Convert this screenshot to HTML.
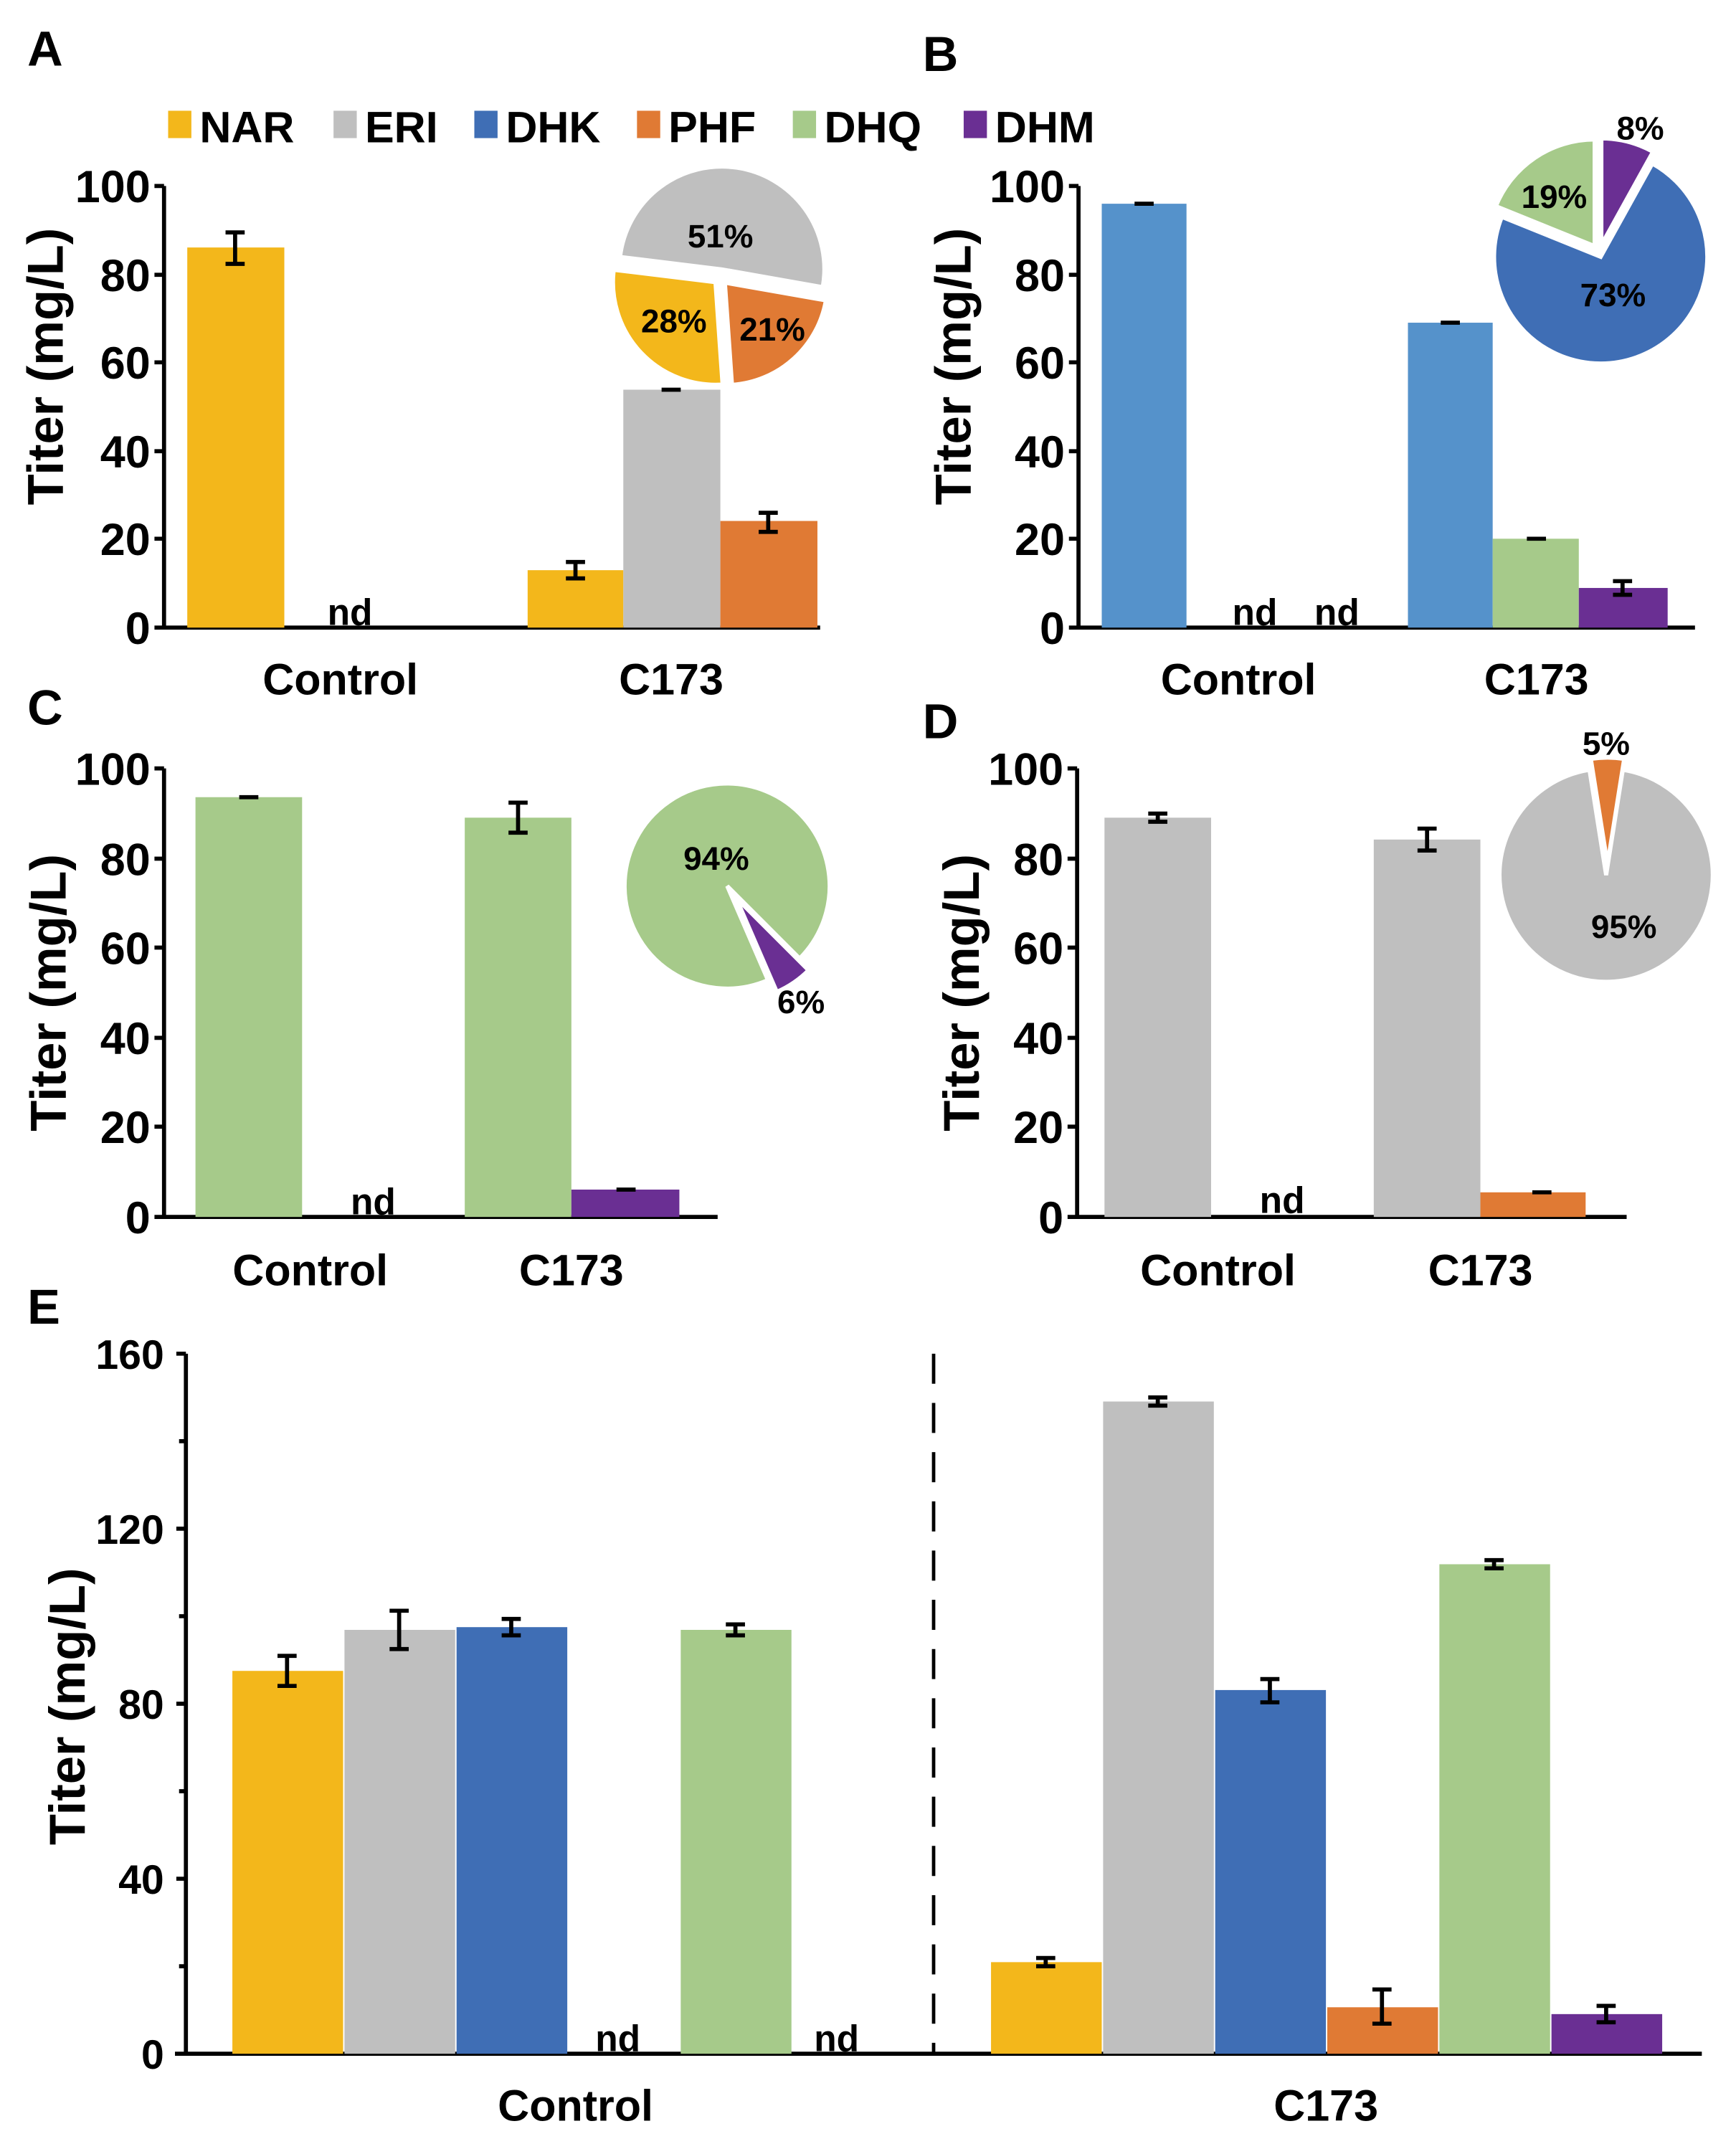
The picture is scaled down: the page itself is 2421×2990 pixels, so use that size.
<!DOCTYPE html>
<html><head><meta charset="utf-8"><style>
html,body{margin:0;padding:0;background:#fff}
svg{display:block}
text{font-family:"Liberation Sans",Arial,sans-serif;font-weight:bold;fill:#000}
</style></head><body>
<svg width="2421" height="2990" viewBox="0 0 1270 1568" preserveAspectRatio="none" xmlns="http://www.w3.org/2000/svg">
<rect width="1270" height="1568" fill="#fff"/>
<text x="20" y="48" font-size="36">A</text>
<text x="675" y="52" font-size="36">B</text>
<text x="20" y="530" font-size="36">C</text>
<text x="675" y="540" font-size="36">D</text>
<text x="20" y="968" font-size="36">E</text>
<g font-size="32">
<rect x="123" y="81" width="17" height="20" fill="#F3B71B"/><text x="146" y="104">NAR</text>
<rect x="244" y="81" width="17" height="20" fill="#BFBFBF"/><text x="267" y="104">ERI</text>
<rect x="347" y="81" width="17" height="20" fill="#3F6EB5"/><text x="370" y="104">DHK</text>
<rect x="466" y="81" width="17" height="20" fill="#E07A34"/><text x="489" y="104">PHF</text>
<rect x="580" y="81" width="17" height="20" fill="#A6CA8A"/><text x="603" y="104">DHQ</text>
<rect x="705" y="81" width="17" height="20" fill="#6A2F93"/><text x="728" y="104">DHM</text>
</g>
<g stroke="#000" stroke-width="3" fill="none">
<path d="M120 136 V459 M113 459 H600 M113 136 H120 M113 201 H120 M113 265 H120 M113 330 H120 M113 394 H120"/>
<path d="M789 136 V459 M782 459 H1240 M782 136 H789 M782 201 H789 M782 265 H789 M782 330 H789 M782 394 H789"/>
<path d="M120 562 V890 M113 890 H525 M113 562 H120 M113 628 H120 M113 693 H120 M113 759 H120 M113 824 H120"/>
<path d="M788 562 V890 M781 890 H1190 M781 562 H788 M781 628 H788 M781 693 H788 M781 759 H788 M781 824 H788"/>
<path d="M136 990 V1502 M128 1502 H1245 M129 990 H136 M131 1054 H136 M129 1118 H136 M131 1182 H136 M129 1246 H136 M131 1310 H136 M129 1374 H136 M131 1438 H136"/>
</g>
<path d="M683 990 V1502" stroke="#000" stroke-width="2.5" stroke-dasharray="22,14"/>
<g font-size="33" text-anchor="end">
<text x="110" y="148">100</text><text x="110" y="213">80</text><text x="110" y="277">60</text><text x="110" y="342">40</text><text x="110" y="406">20</text><text x="110" y="471">0</text>
<text x="779" y="148">100</text><text x="779" y="213">80</text><text x="779" y="277">60</text><text x="779" y="342">40</text><text x="779" y="406">20</text><text x="779" y="471">0</text>
<text x="110" y="574">100</text><text x="110" y="640">80</text><text x="110" y="705">60</text><text x="110" y="771">40</text><text x="110" y="836">20</text><text x="110" y="902">0</text>
<text x="778" y="574">100</text><text x="778" y="640">80</text><text x="778" y="705">60</text><text x="778" y="771">40</text><text x="778" y="836">20</text><text x="778" y="902">0</text>
<text x="120" y="1001" font-weight="normal" font-size="30">160</text><text x="120" y="1129" font-weight="normal" font-size="30">120</text><text x="120" y="1257" font-weight="normal" font-size="30">80</text><text x="120" y="1385" font-weight="normal" font-size="30">40</text><text x="120" y="1513" font-weight="normal" font-size="30">0</text>
</g>
<g font-size="37" text-anchor="middle">
<text transform="translate(46,268) rotate(-90)">Titer (mg/L)</text>
<text transform="translate(710,268) rotate(-90)">Titer (mg/L)</text>
<text transform="translate(48,726) rotate(-90)">Titer (mg/L)</text>
<text transform="translate(716,726) rotate(-90)">Titer (mg/L)</text>
<text transform="translate(62,1248) rotate(-90)">Titer (mg/L)</text>
</g>
<g font-size="32" text-anchor="middle">
<text x="249" y="508">Control</text><text x="491" y="508">C173</text>
<text x="906" y="508">Control</text><text x="1124" y="508">C173</text>
<text x="227" y="940">Control</text><text x="418" y="940">C173</text>
<text x="891" y="940">Control</text><text x="1083" y="940">C173</text>
<text x="421" y="1551">Control</text><text x="970" y="1551">C173</text>
</g>
<g font-size="27" text-anchor="middle">
<text x="256" y="457">nd</text>
<text x="918" y="457">nd</text><text x="978" y="457">nd</text>
<text x="273" y="888">nd</text>
<text x="938" y="887">nd</text>
<text x="452" y="1500">nd</text><text x="612" y="1500">nd</text>
</g>
<rect x="137" y="181" width="71" height="278" fill="#F3B71B"/>
<rect x="386" y="417" width="70" height="42" fill="#F3B71B"/>
<rect x="456" y="285" width="71" height="174" fill="#BFBFBF"/>
<rect x="527" y="381" width="71" height="78" fill="#E07A34"/>
<rect x="806" y="149" width="62" height="310" fill="#5592CB"/>
<rect x="1030" y="236" width="62" height="223" fill="#5592CB"/>
<rect x="1092" y="394" width="63" height="65" fill="#A6CA8A"/>
<rect x="1155" y="430" width="65" height="29" fill="#6A2F93"/>
<rect x="143" y="583" width="78" height="307" fill="#A6CA8A"/>
<rect x="340" y="598" width="78" height="292" fill="#A6CA8A"/>
<rect x="418" y="870" width="79" height="20" fill="#6A2F93"/>
<rect x="808" y="598" width="78" height="292" fill="#BFBFBF"/>
<rect x="1005" y="614" width="78" height="276" fill="#BFBFBF"/>
<rect x="1083" y="872" width="77" height="18" fill="#E07A34"/>
<rect x="170" y="1222" width="81" height="280" fill="#F3B71B"/>
<rect x="252" y="1192" width="81" height="310" fill="#BFBFBF"/>
<rect x="334" y="1190" width="81" height="312" fill="#3F6EB5"/>
<rect x="498" y="1192" width="81" height="310" fill="#A6CA8A"/>
<rect x="725" y="1435" width="81" height="67" fill="#F3B71B"/>
<rect x="807" y="1025" width="81" height="477" fill="#BFBFBF"/>
<rect x="889" y="1236" width="81" height="266" fill="#3F6EB5"/>
<rect x="971" y="1468" width="81" height="34" fill="#E07A34"/>
<rect x="1053" y="1144" width="81" height="358" fill="#A6CA8A"/>
<rect x="1135" y="1473" width="81" height="29" fill="#6A2F93"/>
<g stroke="#000" stroke-width="3" fill="none">
<path d="M172 170 V193 M165 170 H179 M165 193 H179"/>
<path d="M421 411 V423 M414 411 H428 M414 423 H428"/>
<path d="M491 284 V286 M484 285 H498"/>
<path d="M562 375 V389 M555 375 H569 M555 389 H569"/>
<path d="M830 149 H844"/><path d="M1054 236 H1068"/><path d="M1117 394 H1131"/>
<path d="M1187 425 V435 M1180 425 H1194 M1180 435 H1194"/>
<path d="M175 583 H189"/>
<path d="M379 587 V609 M372 587 H386 M372 609 H386"/>
<path d="M451 870 H465"/>
<path d="M847 595 V601 M840 595 H854 M840 601 H854"/>
<path d="M1044 606 V622 M1037 606 H1051 M1037 622 H1051"/>
<path d="M1121 872 H1135"/>
<path d="M210 1211 V1233 M203 1211 H217 M203 1233 H217"/>
<path d="M292 1178 V1206 M285 1178 H299 M285 1206 H299"/>
<path d="M374 1184 V1196 M367 1184 H381 M367 1196 H381"/>
<path d="M538 1188 V1196 M531 1188 H545 M531 1196 H545"/>
<path d="M765 1432 V1438 M758 1432 H772 M758 1438 H772"/>
<path d="M847 1022 V1028 M840 1022 H854 M840 1028 H854"/>
<path d="M929 1228 V1245 M922 1228 H936 M922 1245 H936"/>
<path d="M1011 1455 V1480 M1004 1455 H1018 M1004 1480 H1018"/>
<path d="M1093 1141 V1147 M1086 1141 H1100 M1086 1147 H1100"/>
<path d="M1175 1467 V1479 M1168 1467 H1182 M1168 1479 H1182"/>
</g>
<g stroke="#fff" stroke-width="3">
<path d="M528 197 L453.6 187.9 A75 75 0 1 1 601.9 210 Z" fill="#BFBFBF"/>
<path d="M530.3 206.7 L604.2 219.7 A75 75 0 0 1 535.5 281.5 Z" fill="#E07A34"/>
<path d="M523.4 206.4 L528.6 281.2 A75 75 0 0 1 449 197.3 Z" fill="#F3B71B"/>
<path d="M1171.5 179.2 L1171.5 101.2 A78 78 0 0 1 1209.3 111 Z" fill="#6A2F93"/>
<path d="M1171 187.8 L1208.8 119.6 A78 78 0 1 1 1098.7 158.6 Z" fill="#3F6EB5"/>
<path d="M1166.6 180 L1094.3 150.8 A78 78 0 0 1 1166.6 102 Z" fill="#A6CA8A"/>
<path d="M532 648 L561.8 716.8 A75 75 0 1 1 585 701 Z" fill="#A6CA8A"/>
<path d="M538.5 656.6 L591.5 709.6 A75 75 0 0 1 568.3 725.4 Z" fill="#6A2F93"/>
<path d="M1175 640 L1187.2 563 A78 78 0 1 1 1162.8 563 Z" fill="#BFBFBF"/>
<path d="M1176 632 L1163.8 555 A78 78 0 0 1 1188.2 555 Z" fill="#E07A34"/>
</g>
<g font-size="24" text-anchor="middle">
<text x="527" y="181">51%</text><text x="493" y="243">28%</text><text x="565" y="249">21%</text>
<text x="1200" y="102">8%</text><text x="1137" y="152">19%</text><text x="1180" y="224">73%</text>
<text x="524" y="636">94%</text><text x="586" y="741">6%</text>
<text x="1175" y="552">5%</text><text x="1188" y="686">95%</text>
</g>
</svg>
</body></html>
